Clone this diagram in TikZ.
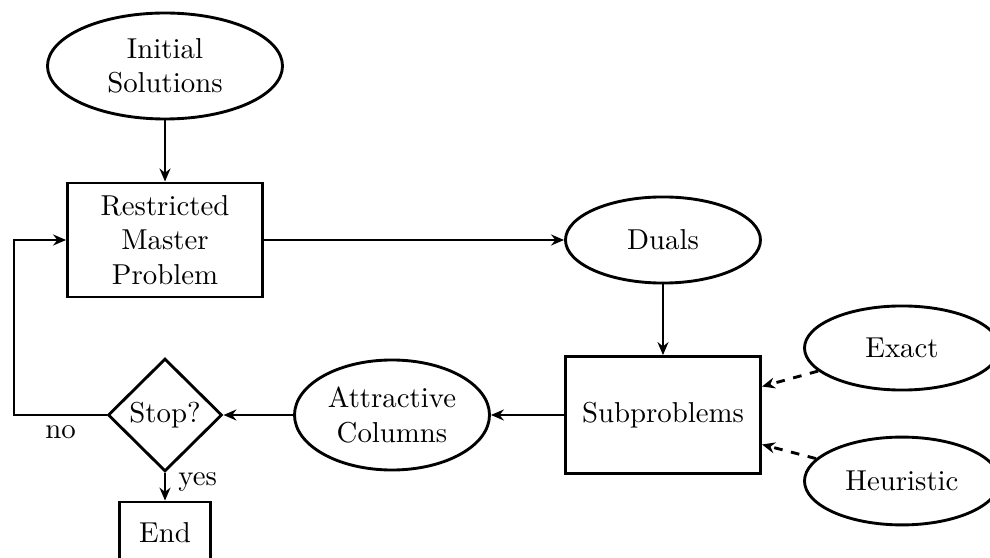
\documentclass[tikz,border=0pt]{standalone}
\usetikzlibrary{shapes.geometric,arrows.meta}
\begin{document}
\begin{tikzpicture}[x=0.34722pt,y=-0.34722pt,line width=1pt,
  >={Stealth[length=4.5pt,width=3.8pt]},
  box/.style={draw,rectangle,align=center,inner sep=0pt},
  oval/.style={draw,ellipse,align=center,inner sep=0pt},
  decision/.style={draw,diamond,align=center,inner sep=0pt},
  lbl/.style={inner sep=0pt}]
\useasboundingbox (0,0) rectangle (990,558);
\node[oval,minimum width=81.6pt,minimum height=36.8pt] (init) at (165,66) {Initial\\Solutions};
\node[box,minimum width=67.7pt,minimum height=39.6pt] (rmp) at (165,240) {Restricted\\Master\\Problem};
\node[oval,minimum width=67.7pt,minimum height=29.9pt] (duals) at (663,240) {Duals};
\node[box,minimum width=67.7pt,minimum height=40.6pt] (sub) at (663,415) {Subproblems};
\node[oval,minimum width=67.7pt,minimum height=38.2pt] (attr) at (392,415) {Attractive\\Columns};
\node[decision,minimum width=39.6pt,minimum height=39.2pt] (stop) at (165,415) {Stop?};
\node[oval,minimum width=67.7pt,minimum height=29.2pt] (exact) at (902,348) {Exact};
\node[oval,minimum width=67.7pt,minimum height=30.5pt] (heur) at (902,481) {Heuristic};
\node[box,minimum width=31.6pt,minimum height=21.5pt] (end) at (165,533) {End};
\node[lbl] (no) at (60.5,432) {no};
\node[lbl,anchor=west] (yes) at (177,482) {yes};
\coordinate (loopA) at (14,415);
\coordinate (loopB) at (14,240);
\coordinate (exin) at (762,386.5);
\coordinate (hein) at (762,444.5);
\draw[->] (init) -- (rmp);
\draw[->] (rmp) -- (duals);
\draw[->] (duals) -- (sub);
\draw[->] (sub) -- (attr);
\draw[->] (attr) -- (stop);
\draw[->] (stop.west) -- (loopA) -- (loopB) -- (rmp.west);
\draw[->] (stop) -- (end);
\draw[->,dashed] (exact) -- (exin);
\draw[->,dashed] (heur) -- (hein);
\end{tikzpicture}
\end{document}
